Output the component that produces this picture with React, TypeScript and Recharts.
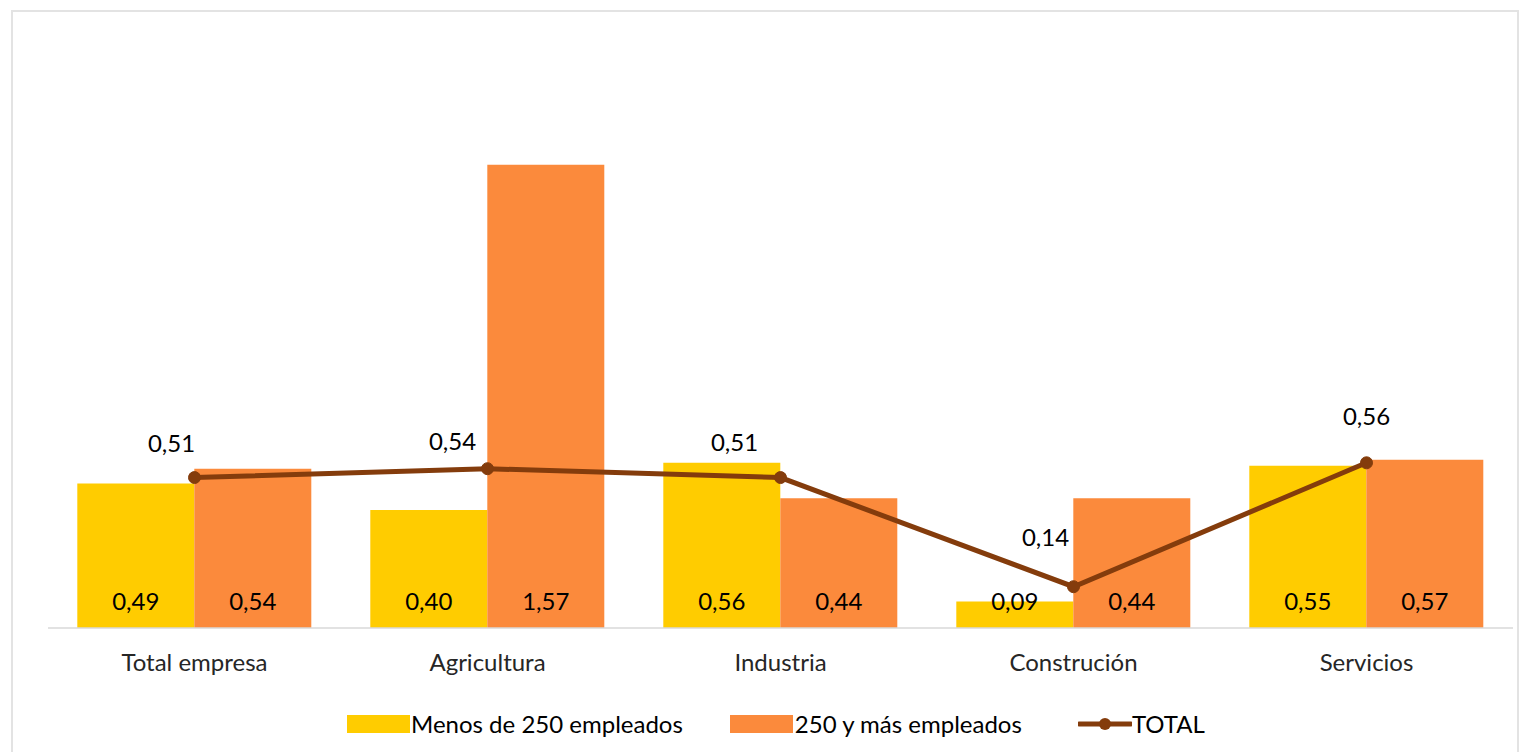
import React from "react";
import { ComposedChart, Bar, Line, XAxis, YAxis, LabelList } from "recharts";

const categories = ["Total empresa", "Agricultura", "Industria", "Construción", "Servicios"];
const menos250 = [0.49, 0.40, 0.56, 0.09, 0.55];
const mas250 = [0.54, 1.57, 0.44, 0.44, 0.57];
const total = [0.51, 0.54, 0.51, 0.14, 0.56];

const totalLabelDx = [-23, -35, -46, -28, 0];
const totalLabelDy = [-35, -28, -36, -50, -47];

const data = categories.map((c, i) => ({
  name: c,
  menos: menos250[i],
  mas: mas250[i],
  total: total[i],
}));

const FONT = "Lato, 'Noto Sans', sans-serif";
const FS = 24;
const fmt = (v: any) => Number(v).toFixed(2).replace(".", ",");

const TotalLabel = (props: any) => {
  const { x, y, value, index } = props;
  return (
    <text
      x={x + totalLabelDx[index]}
      y={y + totalLabelDy[index]}
      textAnchor="middle"
      dominantBaseline="central"
      fontFamily={FONT}
      fontSize={FS}
      fill="#000"
    >
      {fmt(value)}
    </text>
  );
};

export default function App() {
  return (
    <div style={{ position: "absolute", left: 11, top: 10, width: 1504, height: 760, border: "2px solid #e3e3e3", background: "#fff" }}>
      <ComposedChart
        width={1504}
        height={740}
        data={data}
        margin={{ top: 26, right: 4, left: 35, bottom: 94 }}
        barCategoryGap="10%"
        barGap={0}
      >
        <XAxis
          dataKey="name"
          axisLine={{ stroke: "#d9d9d9", strokeWidth: 1.5 }}
          tickLine={false}
          height={30}
          tickMargin={20}
          tick={{ fontFamily: FONT, fontSize: FS, fill: "#262626" }}
          interval={0}
        />
        <YAxis hide domain={[0, 2]} />
        <Bar dataKey="menos" fill="#FFCC00" isAnimationActive={false}>
          <LabelList dataKey="menos" position="insideBottom" offset={18} formatter={fmt} style={{ fontFamily: FONT, fontSize: FS, fill: "#000" }} />
        </Bar>
        <Bar dataKey="mas" fill="#FB8A3C" isAnimationActive={false}>
          <LabelList dataKey="mas" position="insideBottom" offset={18} formatter={fmt} style={{ fontFamily: FONT, fontSize: FS, fill: "#000" }} />
        </Bar>
        <Line
          dataKey="total"
          stroke="#843C0C"
          strokeWidth={5}
          dot={{ r: 6, fill: "#843C0C", stroke: "#843C0C", strokeWidth: 1 }}
          isAnimationActive={false}
        >
          <LabelList dataKey="total" content={<TotalLabel />} />
        </Line>
      </ComposedChart>
      <div style={{ position: "absolute", left: 334, top: 697, display: "flex", alignItems: "center", fontFamily: FONT, fontSize: FS, color: "#000" }}>
        <span style={{ display: "inline-block", width: 63, height: 18, background: "#FFCC00", marginRight: 1 }} />
        <span>Menos de 250 empleados</span>
        <span style={{ display: "inline-block", width: 63, height: 18, background: "#FB8A3C", marginLeft: 47, marginRight: 2 }} />
        <span>250 y más empleados</span>
        <svg width={54} height={20} style={{ marginLeft: 56 }}>
          <line x1={1} y1={10} x2={53} y2={10} stroke="#843C0C" strokeWidth={5} strokeLinecap="round" />
          <circle cx={27} cy={10} r={6} fill="#843C0C" />
        </svg>
        <span>TOTAL</span>
      </div>
    </div>
  );
}
